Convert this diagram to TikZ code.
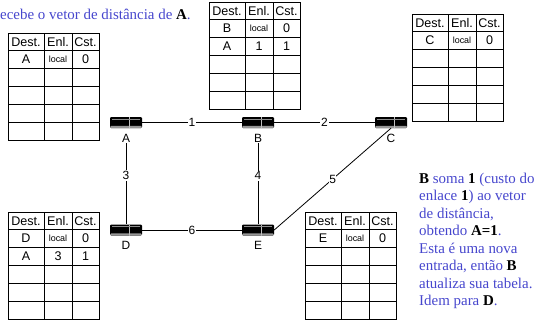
\documentclass[tikz,border=0pt]{standalone}
\usepackage{fontspec}
\setmainfont{Liberation Serif}
\setsansfont{Liberation Sans}
\definecolor{txtblue}{RGB}{70,70,205}
\definecolor{routergray}{RGB}{150,150,150}
\newcommand\bk[1]{\textcolor{black}{\textbf{#1}}}
\tikzset{
  tabline/.style={draw=black, line width=0.9bp},
  cell/.style={inner sep=0, anchor=base, font=\sffamily\fontsize{12.6}{14}\selectfont},
  cellsm/.style={inner sep=0, anchor=base, font=\sffamily\fontsize{9}{10}\selectfont},
  router/.style={fill=black, minimum width=32bp, minimum height=11bp, inner sep=0,
    rounded corners=1.2bp,
    path picture={
      \fill[routergray] (path picture bounding box.south west) rectangle ([yshift=2.2bp]path picture bounding box.south east);
      \draw[white!75!black, line width=0.5bp] ([xshift=19bp]path picture bounding box.south west) -- ([xshift=19bp]path picture bounding box.north west);
      \draw[white!55!black, line width=0.4bp] ([yshift=-2bp,xshift=2bp]path picture bounding box.north west) -- ([yshift=-2bp,xshift=-2bp]path picture bounding box.north east);
    }},
  rlab/.style={inner sep=1bp, font=\sffamily\fontsize{12}{14}\selectfont},
  link/.style={draw=black, line width=0.8bp},
  lbl/.style={fill=white, inner sep=1bp, font=\sffamily\fontsize{12}{14}\selectfont},
  desc/.style={inner sep=0, align=left, text=txtblue, font=\fontsize{15}{17.6}\selectfont}
}
\newcommand\dvtab[9]{%
\begin{scope}[shift={(#2,#3)}]
\draw[tabline] (0,0) rectangle (91,107);
\foreach \yy in {17,35,53,71,89} {\draw[tabline] (0,\yy) -- (91,\yy);}
\draw[tabline] (36,0) -- (36,107);
\draw[tabline] (64,0) -- (64,107);
\node[cell] (#1-hd) at (18,13) {Dest.};
\node[cell] (#1-he) at (50,13) {Enl.};
\node[cell] (#1-hc) at (77.5,13) {Cst.};
\node[cell] (#1-1d) at (18,30.8) {#4};
\node[cellsm] (#1-1e) at (50,29.5) {#5};
\node[cell] (#1-1c) at (77.5,30.8) {#6};
\if\relax\detokenize{#7}\relax\else
\node[cell] (#1-2d) at (18,48.8) {#7};
\node[cell] (#1-2e) at (50,48.8) {#8};
\node[cell] (#1-2c) at (77.5,48.8) {#9};
\fi
\end{scope}}
\begin{document}
\begin{tikzpicture}[x=1bp,y=-1bp]
\useasboundingbox (0,0) rectangle (547,322);
% title
\node[desc, anchor=base west] (title) at (0,19) {ecebe o vetor de distância de \bk{A}.};
% tables
\dvtab{tA}{8}{33}{A}{local}{0}{}{}{}
\dvtab{tB}{209}{2}{B}{local}{0}{A}{1}{1}
\dvtab{tC}{412}{14}{C}{local}{0}{}{}{}
\dvtab{tD}{8}{212}{D}{local}{0}{A}{3}{1}
\dvtab{tE}{305}{212}{E}{local}{0}{}{}{}
% routers
\node[router] (rA) at (126,122.5) {};
\node[router] (rB) at (258,122.5) {};
\node[router] (rC) at (391,122.5) {};
\node[router] (rD) at (126,230) {};
\node[router] (rE) at (258,230) {};
\node[rlab] (lA) at (126,138) {A};
\node[rlab] (lB) at (258,138) {B};
\node[rlab] (lC) at (391,138) {C};
\node[rlab] (lD) at (126,245.5) {D};
\node[rlab] (lE) at (258,245.5) {E};
% links
\draw[link] (rA) -- node[lbl] (c1) {1} (rB);
\draw[link] (rB) -- node[lbl] (c2) {2} (rC);
\draw[link] (lA) -- node[lbl, pos=0.4] (c3) {3} (rD);
\draw[link] (lB) -- node[lbl, pos=0.4] (c4) {4} (rE);
\draw[link] (rE.east) -- node[lbl, inner sep=0.5bp] (c5) {5} (rC.south);
\draw[link] (rD) -- node[lbl] (c6) {6} (rE);
% explanation
\node[desc, anchor=north west] (expl) at (419,172.5) {\bk{B} soma \bk{1} (custo do\\enlace \bk{1}) ao vetor\\de distância,\\obtendo \bk{A=1}.\\Esta é uma nova\\entrada, então \bk{B}\\atualiza sua tabela.\\Idem para \bk{D}.};
\end{tikzpicture}
\end{document}
